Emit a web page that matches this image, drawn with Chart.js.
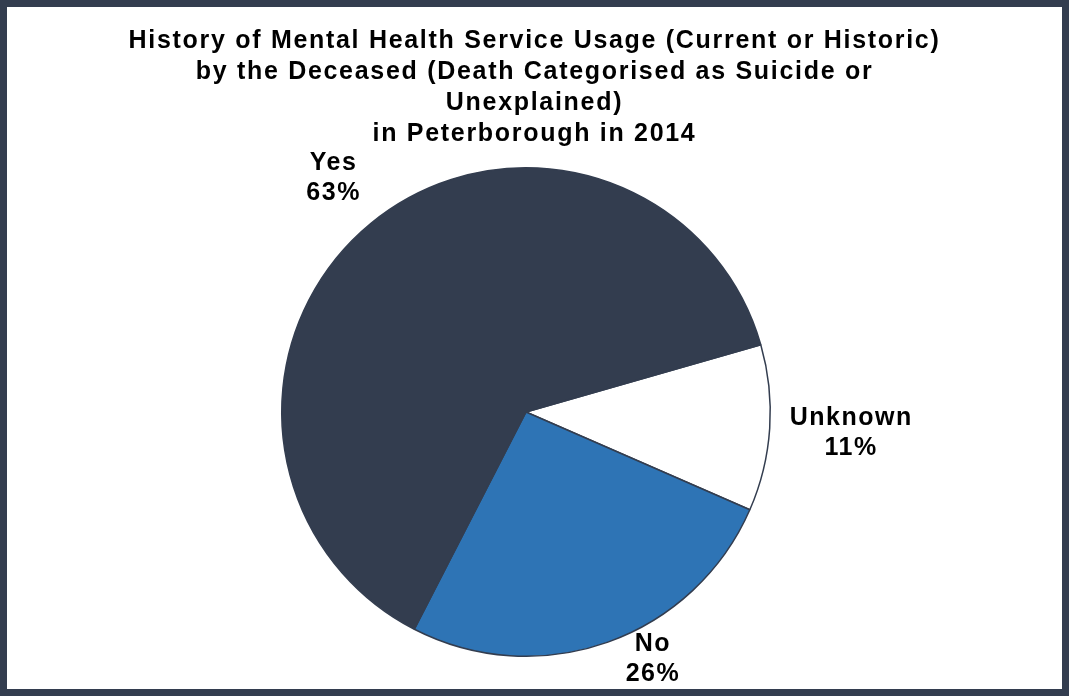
<!DOCTYPE html>
<html>
<head>
<meta charset="utf-8">
<script src="https://cdn.jsdelivr.net/npm/chart.js@4.4.1/dist/chart.umd.min.js"></script>
<style>
  html, body { margin: 0; padding: 0; background: #fff; }
  #frame {
    width: 1055px;
    height: 682px;
    border: 7px solid #333d4f;
  }
  canvas { display: block; }
</style>
</head>
<body>
<div id="frame"><canvas id="pie" width="1055" height="682"></canvas></div>
<script>
// --- datos ---
const titleLines = [
  'History of Mental Health Service Usage (Current or Historic)',
  'by the Deceased (Death Categorised as Suicide or',
  'Unexplained)',
  'in Peterborough in 2014'
];
const categories = ['Unknown', 'No', 'Yes'];
const shares = [11, 26, 63];
const sliceColors = ['#ffffff', '#2e74b5', '#333d4f'];

const FONT = '"Liberation Sans", Arial, sans-serif';
const LABEL_SIZE = 25;
const LABEL_LINE = 30;
const LABEL_GAP = 20;

// el titulo ocupa todo el ancho del lienzo aunque el pastel este desplazado
const fullWidthTitle = {
  id: 'fullWidthTitle',
  afterLayout(chart) {
    const t = chart.titleBlock;
    if (!t) return;
    t.left = 0;
    t.right = chart.width;
    t.width = chart.width;
  },
  beforeDraw(chart) {
    // texto un poco mas espaciado, como en Excel
    chart.ctx.letterSpacing = '1.7px';
  },
  afterDraw(chart) {
    chart.ctx.letterSpacing = '0px';
  }
};

// etiquetas "Categoria / NN%" fuera de cada porcion
const sliceLabels = {
  id: 'sliceLabels',
  afterDatasetsDraw(chart) {
    const ctx = chart.ctx;
    const meta = chart.getDatasetMeta(0);
    const total = shares.reduce((a, b) => a + b, 0);
    ctx.save();
    ctx.letterSpacing = '1.5px';
    ctx.font = 'bold ' + LABEL_SIZE + 'px ' + FONT;
    ctx.fillStyle = '#000';
    ctx.textAlign = 'center';
    ctx.textBaseline = 'middle';
    meta.data.forEach((arc, i) => {
      const p = arc.getProps(['x', 'y', 'startAngle', 'endAngle', 'outerRadius'], true);
      const mid = (p.startAngle + p.endAngle) / 2;
      const dx = Math.cos(mid), dy = Math.sin(mid);
      const lines = [categories[i], Math.round(shares[i] / total * 100) + '%'];
      const w = Math.max(...lines.map(l => ctx.measureText(l).width));
      const h = lines.length * LABEL_LINE;
      // distancia del centro del bloque a su borde en la direccion del radio
      const edge = Math.min(
        Math.abs(dx) > 1e-6 ? (w / 2) / Math.abs(dx) : Infinity,
        Math.abs(dy) > 1e-6 ? (h / 2) / Math.abs(dy) : Infinity
      );
      const dist = p.outerRadius + LABEL_GAP + edge;
      let cx = p.x + dx * dist;
      let cy = p.y + dy * dist;

      // si se sale por abajo, subirlo y apartarlo del circulo
      const maxY = chart.height - h / 2;
      if (cy > maxY) {
        cy = maxY;
        const glyphHalf = h / 2 - (LABEL_LINE - LABEL_SIZE * 0.72) / 2;
        const cornerDy = Math.abs(cy - p.y) - glyphHalf;
        const need = p.outerRadius;
        if (cornerDy < need) {
          const cornerDx = Math.sqrt(need * need - cornerDy * cornerDy);
          const pushed = p.x + Math.sign(dx) * (cornerDx + w / 2);
          cx = dx > 0 ? Math.max(cx, pushed) : Math.min(cx, pushed);
        }
      }
      lines.forEach((l, k) => {
        ctx.fillText(l, cx, cy - h / 2 + LABEL_LINE * (k + 0.5));
      });
    });
    ctx.restore();
  }
};

const ctx = document.getElementById('pie').getContext('2d');
const pieChart = new Chart(ctx, {
  type: 'pie',
  data: {
    labels: categories,
    datasets: [{
      data: shares,
      backgroundColor: sliceColors,
      borderColor: '#333d4f',
      borderWidth: 1.5,
      hoverOffset: 0
    }]
  },
  options: {
    responsive: false,
    animation: false,
    rotation: 74,
    layout: {
      padding: { top: 0, bottom: 32, left: 0, right: 17 }
    },
    plugins: {
      legend: { display: false },
      tooltip: { enabled: false },
      title: {
        display: true,
        text: titleLines,
        color: '#000',
        font: { family: FONT, size: 25, weight: 'bold', lineHeight: 1.24 },
        padding: { top: 18.5, bottom: 17.5 }
      }
    }
  },
  plugins: [fullWidthTitle, sliceLabels]
});
</script>
</body>
</html>
